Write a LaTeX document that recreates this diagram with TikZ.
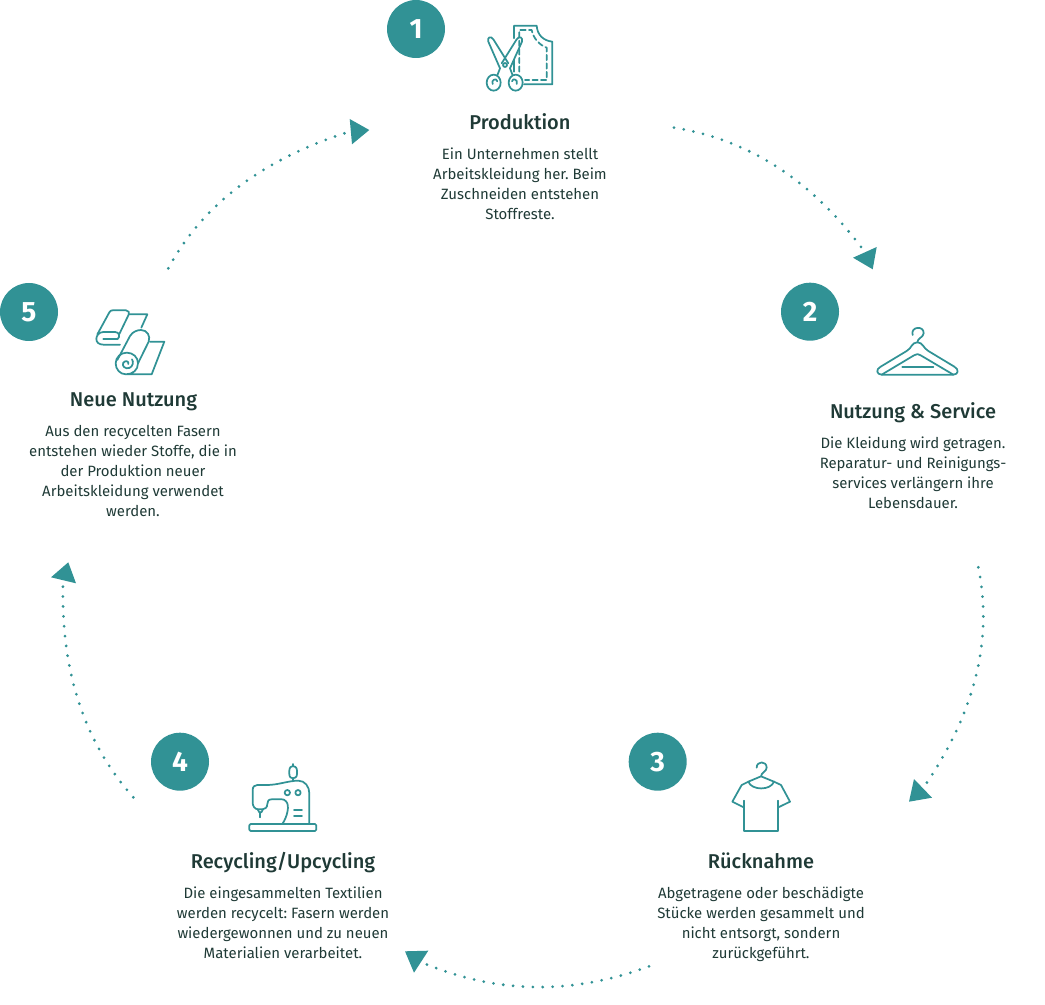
\documentclass[tikz,border=0pt]{standalone}
\usepackage{fontspec}
\setmainfont{Fira Sans}
\newfontfamily\headfont{Fira Sans Medium}
\definecolor{teal1}{HTML}{319295}
\definecolor{ink}{HTML}{1F3A36}
\tikzset{
  numdot/.style={circle,fill=teal1,draw=none,minimum size=43.5pt,inner sep=0pt,text=white,font=\bfseries\fontsize{21}{21}\selectfont},
  titlenode/.style={text=ink,inner sep=0pt,anchor=base,font=\headfont\fontsize{15}{15}\selectfont},
  bodynode/.style={text=ink,inner sep=0pt,anchor=north,align=center,font=\fontsize{11.2}{15}\selectfont\frenchspacing},
  flow/.style={teal1,line width=2.3pt,line cap=round,dash pattern=on 0pt off 7.42pt},
  tip/.style={fill=teal1,draw=none},
  icon/.style={teal1,line width=1.3pt,line cap=round,line join=round},
}
\begin{document}
\begin{tikzpicture}[x=0.75pt,y=-0.75pt]
\useasboundingbox (0,0) rectangle (1045,1005);
% circles
\node[numdot] (n1) at (416,29) {1};
\node[numdot] (n2) at (810,311.7) {2};
\node[numdot] (n3) at (657.7,761.7) {3};
\node[numdot] (n4) at (180,761.7) {4};
\node[numdot] (n5) at (29,312) {5};
% titles
\node[titlenode] (t1) at (520,129.5) {Produktion};
\node[titlenode] (t2) at (913,418) {Nutzung \& Service};
\node[titlenode] (t3) at (761,868) {Rücknahme};
\node[titlenode] (t4) at (283,868) {Recycling/Upcycling};
\node[titlenode] (t5) at (133.5,406) {Neue Nutzung};
% bodies
\node[bodynode] (b1) at (520,148) {Ein Unternehmen stellt\\Arbeitskleidung her. Beim\\Zuschneiden entstehen\\Stoffreste.};
\node[bodynode] (b2) at (913,437) {Die Kleidung wird getragen.\\Reparatur- und Reinigungs-\\services verlängern ihre\\Lebensdauer.};
\node[bodynode] (b3) at (761,887) {Abgetragene oder beschädigte\\Stücke werden gesammelt und\\nicht entsorgt, sondern\\zurückgeführt.};
\node[bodynode] (b4) at (283,887) {Die eingesammelten Textilien\\werden recycelt: Fasern werden\\wiedergewonnen und zu neuen\\Materialien verarbeitet.};
\node[bodynode] (b5) at (133,425) {Aus den recycelten Fasern\\entstehen wieder Stoffe, die in\\der Produktion neuer\\Arbeitskleidung verwendet\\werden.};
% connector ends
\coordinate (a1s) at (674,127.7); \coordinate (a1e) at (862.3,248.7);
\coordinate (a2s) at (978.3,567.3); \coordinate (a2e) at (925.3,785);
\coordinate (a3s) at (649,966.3); \coordinate (a3e) at (425,963.7);
\coordinate (a4s) at (133.3,797.3); \coordinate (a4e) at (63,584.7);
\coordinate (a5s) at (168.3,268.3); \coordinate (a5e) at (346.3,132.7);
\draw[flow] (a1s) .. controls (747.3,139.2) and (810.3,179) .. (a1e);
\draw[flow] (a2s) .. controls (993,638.6) and (975.4,711.2) .. (a2e);
\draw[flow] (a3s) .. controls (573,994.8) and (498.3,993.9) .. (a3e);
\draw[flow] (a4s) .. controls (84.4,742.4) and (61,671.6) .. (a4e);
\draw[flow] (a5s) .. controls (202.4,205.1) and (261.8,159.9) .. (a5e);
\fill[tip] (876.7,247) -- (872.7,269.3) -- (853,257.7) -- cycle;
\fill[tip] (914,779) -- (909,801.7) -- (932,797.7) -- cycle;
\fill[tip] (405,951.3) -- (428.3,950.7) -- (414,972.7) -- cycle;
\fill[tip] (68.3,562.3) -- (51,577.3) -- (76,583.3) -- cycle;
\fill[tip] (349.7,119) -- (369.3,130) -- (352,144.3) -- cycle;
% icon 1
\begin{scope}[shift={(380,0)},x=0.25pt,y=-0.25pt,icon]
\draw (402,115) -- (402,77) -- (470,77) .. controls (472,105) and (490,122) .. (517,125) -- (517,253) -- (432,253);
\draw (402,180) -- (402,215);
\draw[dash pattern=on 4pt off 2.4pt] (418,215) -- (418,90) -- (455,90) .. controls (460,115) and (478,135) .. (500,143) -- (500,240) -- (435,240);
\draw (360,205) -- (325,125) .. controls (321,112) and (332,106) .. (340,118) -- (385,190);
\draw (390,205) -- (426,125) .. controls (429,112) and (418,106) .. (410,118) -- (365,190);
\draw[fill=white] (375,195) circle[radius=6];
\draw (360,205) -- (352,226);
\draw (390,205) -- (398,226);
\draw (341,248) ellipse[x radius=21,y radius=24];
\draw (407,248) ellipse[x radius=21,y radius=24];
\draw (338,252) .. controls (332,240) and (350,232) .. (352,244);
\draw (410,252) .. controls (416,240) and (398,232) .. (396,244);
\end{scope}
% icon 2
\begin{scope}[shift={(770,280)},x=0.25pt,y=-0.25pt,icon]
\draw (428,165) .. controls (420,140) and (462,135) .. (461,160) .. controls (460,172) and (442,175) .. (442,187);
\draw (335,284) .. controls (320,284) and (316,268) .. (332,260) -- (410,213) .. controls (425,205) and (425,187) .. (442,187) .. controls (459,187) and (460,205) .. (475,213) -- (553,260) .. controls (568,268) and (565,284) .. (550,284) -- cycle;
\draw (335,284) -- (432,226) .. controls (440,221) and (445,221) .. (452,226) -- (550,284);
\draw (397,261) -- (490,261);
\end{scope}
% icon 3
\begin{scope}[shift={(620,730)},x=0.25pt,y=-0.25pt,icon]
\draw (410,113) .. controls (410,92) and (440,92) .. (440,113) .. controls (440,125) and (423,127) .. (423,140);
\draw (385,155) -- (423,139) -- (462,155);
\draw (385,155) .. controls (395,182) and (452,182) .. (462,155);
\draw (385,155) -- (365,165) -- (337,215) -- (371,232);
\draw (462,155) -- (483,165) -- (510,215) -- (475,232);
\draw (371,212) -- (371,302) -- (475,302) -- (475,212);
\end{scope}
% icon 4
\begin{scope}[shift={(150,730)},x=0.25pt,y=-0.25pt,icon]
\draw[rounded corners=1pt] (298,282) rectangle (499,303);
\draw (397,282) .. controls (412,260) and (420,225) .. (408,214) .. controls (404,209) and (400,208) .. (396,208) -- (365,208) .. controls (355,208) and (352,214) .. (352,222) .. controls (352,232) and (345,238) .. (338,238) -- (325,238) .. controls (314,238) and (308,228) .. (308,218) -- (308,180) .. controls (308,170) and (314,165) .. (322,165) -- (350,165) .. controls (385,165) and (415,152) .. (445,152) .. controls (465,152) and (478,170) .. (478,190) -- (478,282);
\draw (418,122) .. controls (418,112) and (424,108) .. (429,108) .. controls (434,108) and (441,112) .. (441,122) -- (441,132) .. controls (441,142) and (434,145) .. (429,145) .. controls (424,145) and (418,142) .. (418,132) -- cycle;
\draw (429,102) -- (429,108);
\draw (429,145) -- (429,153);
\draw (412,188) circle[radius=8];
\draw (444,188) circle[radius=8];
\draw (432,240) -- (456,240);
\draw (432,259) -- (456,259);
\draw (323,238) -- (328,247) -- (334,247) -- (339,238);
\draw (331,247) -- (331,262);
\end{scope}
% icon 5
\begin{scope}[shift={(0,280)},x=0.25pt,y=-0.25pt,icon]
\draw (292,163) -- (328,97) .. controls (331,92) and (334,91) .. (338,91) -- (378,91) .. controls (386,91) and (389,98) .. (386,104) -- (358,162);
\draw (386,103) -- (442,103) -- (424,143);
\draw (352,178) -- (310,178);
\draw (345,156) -- (310,156) .. controls (296,156) and (289,168) .. (289,177) .. controls (289,187) and (297,194) .. (310,194) -- (360,194);
\draw (345,156) .. controls (358,156) and (362,170) .. (352,178);
\draw (352,240) -- (390,168) .. controls (398,155) and (412,150) .. (423,150) .. controls (442,150) and (452,168) .. (446,185) -- (414,250);
\draw (378,283) .. controls (360,283) and (347,268) .. (347,250) .. controls (347,232) and (362,218) .. (380,218) .. controls (400,218) and (414,232) .. (414,250) .. controls (414,270) and (398,283) .. (378,283) -- (455,283) -- (493,185) -- (450,185);
\draw (385,252) .. controls (388,244) and (376,240) .. (370,248) .. controls (364,258) and (376,268) .. (388,264) .. controls (398,260) and (402,246) .. (396,238);
\end{scope}
\end{tikzpicture}
\end{document}
